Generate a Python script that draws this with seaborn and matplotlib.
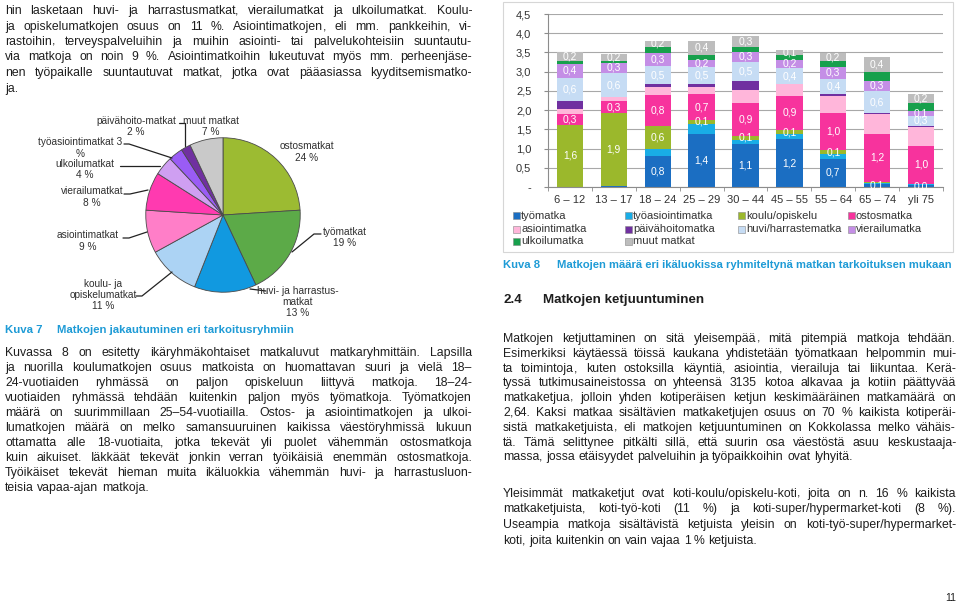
import re
import numpy as np
import pandas as pd
import matplotlib
matplotlib.use("Agg")
import matplotlib.pyplot as plt
import seaborn as sns
from matplotlib.patches import Rectangle
from matplotlib.lines import Line2D

# ---------------- data: bar chart (Kuva 8) ----------------
age_groups = ["6 – 12", "13 – 17", "18 – 24", "25 – 29", "30 – 44",
              "45 – 55", "55 – 64", "65 – 74", "yli 75"]
purposes = ["työmatka", "työasiointimatka", "koulu/opiskelu", "ostosmatka",
            "asiointimatka", "päivähoitomatka", "huvi/harrastematka",
            "vierailumatka", "ulkoilumatka", "muut matkat"]
tyomatka    = [0.00, 0.02, 0.81, 1.38, 1.13, 1.24, 0.74, 0.08, 0.04]
tyoasiointi = [0.00, 0.00, 0.19, 0.26, 0.10, 0.13, 0.13, 0.03, 0.03]
koulu       = [1.62, 1.91, 0.59, 0.11, 0.09, 0.11, 0.08, 0.03, 0.02]
ostos       = [0.29, 0.30, 0.81, 0.66, 0.86, 0.90, 0.98, 1.23, 0.98]
asiointi    = [0.11, 0.10, 0.20, 0.20, 0.35, 0.30, 0.45, 0.53, 0.50]
paivahoito  = [0.21, 0.00, 0.07, 0.06, 0.23, 0.00, 0.03, 0.02, 0.02]
huvi        = [0.61, 0.64, 0.48, 0.46, 0.49, 0.41, 0.40, 0.57, 0.26]
vierailu    = [0.36, 0.26, 0.34, 0.18, 0.27, 0.22, 0.32, 0.28, 0.13]
ulkoilu     = [0.08, 0.06, 0.14, 0.13, 0.13, 0.13, 0.14, 0.21, 0.20]
muut        = [0.23, 0.17, 0.18, 0.36, 0.28, 0.13, 0.22, 0.39, 0.23]
series = [tyomatka, tyoasiointi, koulu, ostos, asiointi, paivahoito,
          huvi, vierailu, ulkoilu, muut]
y_ticks = [0, 0.5, 1.0, 1.5, 2.0, 2.5, 3.0, 3.5, 4.0, 4.5]
y_tick_labels = ["-", "0,5", "1,0", "1,5", "2,0", "2,5", "3,0", "3,5", "4,0", "4,5"]

# ---------------- data: pie chart (Kuva 7) ----------------
pie_names = ["ostosmatkat", "työmatkat", "huvi- ja harrastusmatkat",
             "koulu- ja opiskelumatkat", "asiointimatkat", "vierailumatkat",
             "ulkoilumatkat", "työasiointimatkat", "päivähoito-matkat", "muut matkat"]
pie_values = [24, 19, 13, 11, 9, 8, 4, 3, 2, 7]
pie_label_text = ["ostosmatkat\n24 %", "työmatkat\n19 %",
                  "huvi- ja harrastus-\nmatkat\n13 %",
                  "koulu- ja\nopiskelumatkat\n11 %", "asiointimatkat\n9 %",
                  "vierailumatkat\n8 %", "ulkoilumatkat\n4 %",
                  "työasiointimatkat 3\n%", "päivähoito-matkat\n2 %",
                  "muut matkat\n7 %"]

# ---------------- styles / layout ----------------
bar_colors = ["#1b6ec2", "#19ade6", "#9bb82c", "#f7339d", "#ffb6da",
              "#7030a0", "#c6dcf4", "#c48ee6", "#17a04c", "#bdbdbd"]
bar_labelled = [True, False, True, True, False, False, True, True, False, True]
pie_colors = ["#9cbb32", "#5caa48", "#1199e0", "#acd3f4", "#ff7ec8",
              "#ff3ab0", "#cf9ff2", "#9a5cf5", "#7030a0", "#c9c9c9"]
pie_label_pos = [(307, 152), (345, 237.5), (298, 302), (103, 295), (88, 241),
                 (92, 197), (85, 169.5), (80, 148), (136, 126.5), (211, 126.5)]
pie_leaders = [None,
               [(321, 234), (314, 234), (292, 252)],
               [(266, 291), (250, 289)],
               [(136, 296), (142, 296), (172, 272)],
               [(123, 238), (129, 238), (147, 232)],
               [(124, 194), (130, 194), (148, 190)],
               [(120, 166), (127, 166), (160, 166)],
               [(124, 144), (129, 144), (172, 158)],
               [(179, 123), (185, 123), (185, 146)],
               None]

sns.set_style("white")
plt.rcParams["font.family"] = "Liberation Sans"

W, H = 960, 602
fig = plt.figure(figsize=(W / 100, H / 100), dpi=100, facecolor="white")

def fx(x):
    return x / W

def fy(y):
    return 1 - y / H

TEXT = "#1e1e1e"
CAP = "#1e9bd6"
BODY = 8.8

renderer = fig.canvas.get_renderer()

def make_word(word, size):
    """A word as text pieces; commas are separate pieces so that all
    pieces share one baseline."""
    parts = [p for p in re.split(r"(,)", word) if p]
    ts = [fig.text(0, 0, p, fontsize=size, color=TEXT, ha="left",
                   va="baseline", family="Liberation Sans") for p in parts]
    ws = [t.get_window_extent(renderer).width for t in ts]
    return ts, ws

def paragraph(lines, x0, x1, y0, dy, size=BODY):
    target = x1 - x0
    for k, line in enumerate(lines):
        yb = round(y0 + k * dy)
        words = line.split()
        sz = size
        items = [make_word(w, sz) for w in words]
        wsum = sum(sum(ws) for _, ws in items)
        space = 0.278 * sz * 100 / 72
        natural = wsum + space * (len(words) - 1)
        if natural > target:
            for ts, _ in items:
                for t in ts:
                    t.remove()
            sz = size * target / natural * 0.995
            items = [make_word(w, sz) for w in words]
            wsum = sum(sum(ws) for _, ws in items)
            space = 0.278 * sz * 100 / 72
        if k == len(lines) - 1:
            gap = space
        else:
            gap = (target - wsum) / max(len(words) - 1, 1)
        x = x0
        for ts, ws in items:
            for t, w in zip(ts, ws):
                t.set_position((fx(x), fy(yb)))
                x += w
            x += gap

# ---------------- body text ----------------
left1 = [
    "hin lasketaan huvi- ja harrastusmatkat, vierailumatkat ja ulkoilumatkat.  Koulu-",
    "ja opiskelumatkojen osuus on 11\u00a0%. Asiointimatkojen, eli mm. pankkeihin, vi-",
    "rastoihin, terveyspalveluihin ja muihin asiointi- tai palvelukohteisiin suuntautu-",
    "via matkoja on noin 9\u00a0%. Asiointimatkoihin lukeutuvat myös mm. perheenjäse-",
    "nen työpaikalle suuntautuvat matkat, jotka ovat pääasiassa kyyditsemismatko-",
    "ja.",
]
left2 = [
    "Kuvassa 8 on esitetty ikäryhmäkohtaiset matkaluvut matkaryhmittäin. Lapsilla",
    "ja nuorilla koulumatkojen osuus matkoista on huomattavan suuri ja vielä 18–",
    "24-vuotiaiden ryhmässä on paljon opiskeluun liittyvä matkoja. 18–24-",
    "vuotiaiden ryhmässä tehdään kuitenkin paljon myös työmatkoja. Työmatkojen",
    "määrä on suurimmillaan 25–54-vuotiailla. Ostos- ja asiointimatkojen ja ulkoi-",
    "lumatkojen määrä on melko samansuuruinen kaikissa väestöryhmissä lukuun",
    "ottamatta alle 18-vuotiaita, jotka tekevät yli puolet vähemmän ostosmatkoja",
    "kuin aikuiset. Iäkkäät tekevät jonkin verran työikäisiä enemmän ostosmatkoja.",
    "Työikäiset tekevät hieman muita ikäluokkia vähemmän huvi- ja harrastusluon-",
    "teisia vapaa-ajan matkoja.",
]
right1 = [
    "Matkojen ketjuttaminen on sitä yleisempää, mitä pitempiä matkoja tehdään.",
    "Esimerkiksi käytäessä töissä kaukana yhdistetään työmatkaan helpommin mui-",
    "ta toimintoja, kuten ostoksilla käyntiä, asiointia, vierailuja tai liikuntaa. Kerä-",
    "tyssä tutkimusaineistossa on yhteensä 3135 kotoa alkavaa ja kotiin päättyvää",
    "matkaketjua, jolloin yhden kotiperäisen ketjun keskimääräinen matkamäärä on",
    "2,64. Kaksi matkaa sisältävien matkaketjujen osuus on 70\u00a0% kaikista kotiperäi-",
    "sistä matkaketjuista, eli matkojen ketjuuntuminen on Kokkolassa melko vähäis-",
    "tä. Tämä selittynee pitkälti sillä, että suurin osa väestöstä asuu keskustaaja-",
    "massa, jossa etäisyydet palveluihin ja työpaikkoihin ovat lyhyitä.",
]
right2 = [
    "Yleisimmät matkaketjut ovat koti-koulu/opiskelu-koti, joita on n. 16\u00a0% kaikista",
    "matkaketjuista, koti-työ-koti (11\u00a0%) ja koti-super/hypermarket-koti (8\u00a0%).",
    "Useampia matkoja sisältävistä ketjuista yleisin on koti-työ-super/hypermarket-",
    "koti, joita kuitenkin on vain vajaa 1\u00a0% ketjuista.",
]
paragraph(left1, 5, 472, 14, 15.5)
paragraph(left2, 5, 472, 356, 15.0)
paragraph(right1, 503, 956, 342, 14.8)
paragraph(right2, 503, 956, 497, 15.5)

fig.text(fx(503), fy(303), "2.4", fontsize=9.6, fontweight="bold", color=TEXT)
fig.text(fx(543), fy(303), "Matkojen ketjuuntuminen", fontsize=9.6,
         fontweight="bold", color=TEXT)

# captions
fig.text(fx(5), fy(333), "Kuva 7", fontsize=8.2, fontweight="bold", color=CAP)
fig.text(fx(57), fy(333), "Matkojen jakautuminen eri tarkoitusryhmiin",
         fontsize=8.2, fontweight="bold", color=CAP)
fig.text(fx(503), fy(268), "Kuva 8", fontsize=8.1, fontweight="bold", color=CAP)
fig.text(fx(557), fy(268),
         "Matkojen määrä eri ikäluokissa ryhmiteltynä matkan tarkoituksen mukaan",
         fontsize=8.1, fontweight="bold", color=CAP)
fig.text(fx(956), fy(601), "11", fontsize=7.5, color=TEXT, ha="right",
         va="baseline")

# ---------------- pie chart ----------------
cx, cy, r = 223, 215, 78
axp = fig.add_axes([fx(cx - r), fy(cy + r), 2 * r / W, 2 * r / H])
axp.pie(pie_values, colors=pie_colors, startangle=90, counterclock=False,
        wedgeprops=dict(edgecolor="#4a4a4a", linewidth=0.6))
axp.set_xlim(-1.01, 1.01)
axp.set_ylim(-1.01, 1.01)
axp.set_axis_off()
for txt, (lx, ly), lead in zip(pie_label_text, pie_label_pos, pie_leaders):
    fig.text(fx(lx), fy(ly), txt, fontsize=7.3, color="#303030", ha="center",
             va="center", linespacing=1.15, multialignment="center")
    if lead:
        xs = [fx(p[0]) for p in lead]
        ys = [fy(p[1]) for p in lead]
        fig.add_artist(Line2D(xs, ys, color="#222222", lw=0.9,
                              transform=fig.transFigure))

# ---------------- stacked bar chart ----------------
fig.add_artist(Rectangle((fx(503), fy(252)), 450 / W, 250 / H,
                         transform=fig.transFigure, fill=False,
                         edgecolor="#d6d6d6", lw=0.8))

ax = fig.add_axes([fx(548), fy(187), 395 / W, 173 / H])
vals = np.array(series)
tops = np.cumsum(vals, axis=0)
for i in reversed(range(len(purposes))):
    sns.barplot(x=age_groups, y=tops[i], order=age_groups, color=bar_colors[i],
                saturation=1, errorbar=None, width=0.6, linewidth=0, ax=ax,
                zorder=2)
bottoms = tops - vals
for i in range(len(purposes)):
    if not bar_labelled[i]:
        continue
    for j in range(len(age_groups)):
        v = vals[i, j]
        if v >= 0.035:
            ax.text(j, bottoms[i, j] + v / 2, f"{v:.1f}".replace(".", ","),
                    ha="center", va="center", color="white", fontsize=7.4,
                    zorder=5)

ax.set_ylim(0, 4.5)
ax.set_xlim(-0.5, len(age_groups) - 0.5)
ax.set_yticks(y_ticks)
ax.set_yticklabels(y_tick_labels)
ax.set_xlabel("")
ax.set_ylabel("")
ax.yaxis.grid(True, color="#a8a8a8", lw=0.8, zorder=0)
ax.set_axisbelow(True)
for s in ["top", "right"]:
    ax.spines[s].set_visible(False)
for s in ["left", "bottom"]:
    ax.spines[s].set_color("#8c8c8c")
    ax.spines[s].set_linewidth(0.8)
ax.tick_params(axis="y", length=3, color="#8c8c8c", direction="out",
               labelsize=8, labelcolor="#333333", pad=9, left=True)
ax.tick_params(axis="x", which="major", length=0, labelsize=8,
               labelcolor="#333333", pad=6)
ax.set_xticks(np.arange(-0.5, len(age_groups), 1.0), minor=True)
ax.tick_params(axis="x", which="minor", length=3, color="#8c8c8c",
               direction="out", bottom=True)

# legend (row-major, 4 columns)
leg_cols = [513, 625, 738, 848]
leg_rows = [216, 229, 241]
for k, (name, col) in enumerate(zip(purposes, bar_colors)):
    lx = leg_cols[k % 4]
    ly = leg_rows[k // 4]
    fig.add_artist(Rectangle((fx(lx), fy(ly + 3.5)), 7 / W, 7 / H,
                             transform=fig.transFigure, facecolor=col,
                             edgecolor="#888888", lw=0.4))
    fig.text(fx(lx + 8), fy(ly), name, fontsize=8, color="#333333",
             ha="left", va="center")

fig.savefig("out.png", dpi=100, facecolor="white")
